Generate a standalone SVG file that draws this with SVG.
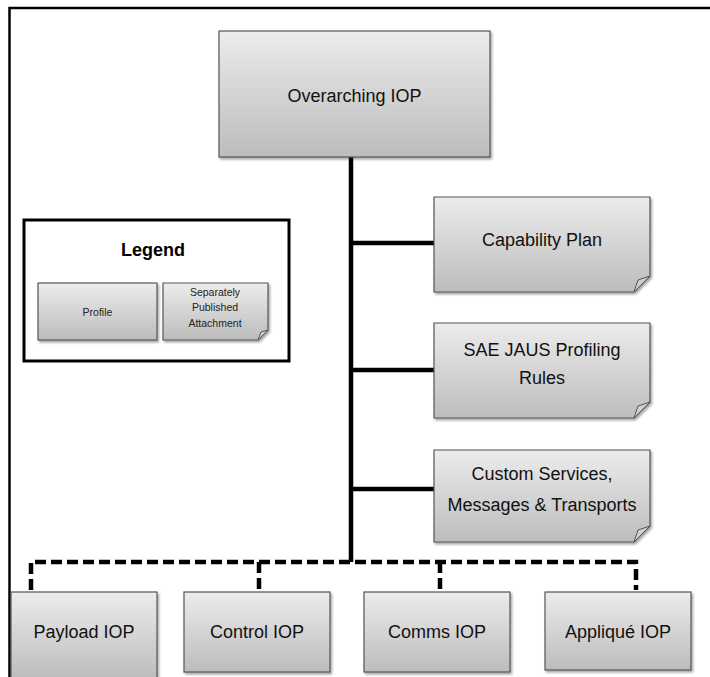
<svg xmlns="http://www.w3.org/2000/svg" width="710" height="677" viewBox="0 0 710 677">
<defs>
<linearGradient id="g" x1="0" y1="0" x2="0" y2="1">
<stop offset="0" stop-color="#ececec"/>
<stop offset="1" stop-color="#bcbcbc"/>
</linearGradient>
<filter id="sh" x="-10%" y="-10%" width="130%" height="130%">
<feDropShadow dx="1.5" dy="2" stdDeviation="1.2" flood-color="#000" flood-opacity="0.35"/>
</filter>
</defs>
<style>
.box{fill:url(#g);stroke:#555;stroke-width:1.2;filter:url(#sh)}
.fold{fill:#cfcfcf;stroke:#555;stroke-width:1}
.t{font-family:"Liberation Sans",Arial,sans-serif;font-size:18px;fill:#111;text-anchor:middle;dominant-baseline:central}
.s{font-family:"Liberation Sans",Arial,sans-serif;font-size:10.5px;fill:#222;text-anchor:middle;dominant-baseline:central}
.solid{stroke:#000;stroke-width:4.5;fill:none}
.dash{stroke:#000;stroke-width:4.5;fill:none;stroke-dasharray:11,5}
</style>
<rect width="710" height="677" fill="#fff"/>
<path d="M9.5,677 V8 H710" fill="none" stroke="#000" stroke-width="2.5"/>
<g id="connectors">
<path class="solid" d="M351,157 V562"/>
<path class="solid" d="M351,243 H434"/>
<path class="solid" d="M351,370 H434"/>
<path class="solid" d="M351,489 H434"/>
<path class="dash" d="M31,590 V562 H636 V590"/>
<path class="dash" d="M259,562 V590"/>
<path class="dash" d="M440,562 V590"/>
</g>
<g id="overarching">
<rect class="box" x="219" y="31" width="271" height="126"/>
<text class="t" x="354.5" y="96">Overarching IOP</text>
</g>
<g id="legend">
<rect x="24" y="220" width="265" height="141" fill="#fff" stroke="#000" stroke-width="3"/>
<text x="153" y="250" font-family="Liberation Sans, Arial, sans-serif" font-size="18" font-weight="bold" text-anchor="middle" dominant-baseline="central" fill="#000">Legend</text>
<g id="legend-profile">
<rect class="box" x="38" y="283" width="119" height="57"/>
<text class="s" x="97.5" y="312">Profile</text>
</g>
<g id="legend-attachment">
<path class="box" d="M163,283 H268 V330 L258,340 H163 Z"/>
<path class="fold" d="M268,330 L261,332 L258,340 Z"/>
<text class="s" x="215" y="292">Separately</text>
<text class="s" x="215" y="307">Published</text>
<text class="s" x="215" y="323">Attachment</text>
</g>
</g>
<g id="capability">
<path class="box" d="M434,197 H650 V276 L634,292 H434 Z"/>
<path class="fold" d="M650,276 L638,280 L634,292 Z"/>
<text class="t" x="542" y="240">Capability Plan</text>
</g>
<g id="sae">
<path class="box" d="M434,323 H650 V402 L634,418 H434 Z"/>
<path class="fold" d="M650,402 L638,406 L634,418 Z"/>
<text class="t" x="542" y="350">SAE JAUS Profiling</text>
<text class="t" x="542" y="378">Rules</text>
</g>
<g id="custom">
<path class="box" d="M434,450 H650 V526 L634,542 H434 Z"/>
<path class="fold" d="M650,526 L638,530 L634,542 Z"/>
<text class="t" x="542" y="474">Custom Services,</text>
<text class="t" x="542" y="505">Messages &amp; Transports</text>
</g>
<g id="payload">
<rect class="box" x="11" y="592" width="146" height="88"/>
<text class="t" x="84" y="632">Payload IOP</text>
</g>
<g id="control">
<rect class="box" x="184" y="592" width="146" height="80"/>
<text class="t" x="257" y="632">Control IOP</text>
</g>
<g id="comms">
<rect class="box" x="364" y="592" width="146" height="80"/>
<text class="t" x="437" y="632">Comms IOP</text>
</g>
<g id="applique">
<rect class="box" x="545" y="592" width="146" height="78"/>
<text class="t" x="618" y="632">Appliqué IOP</text>
</g>
</svg>
